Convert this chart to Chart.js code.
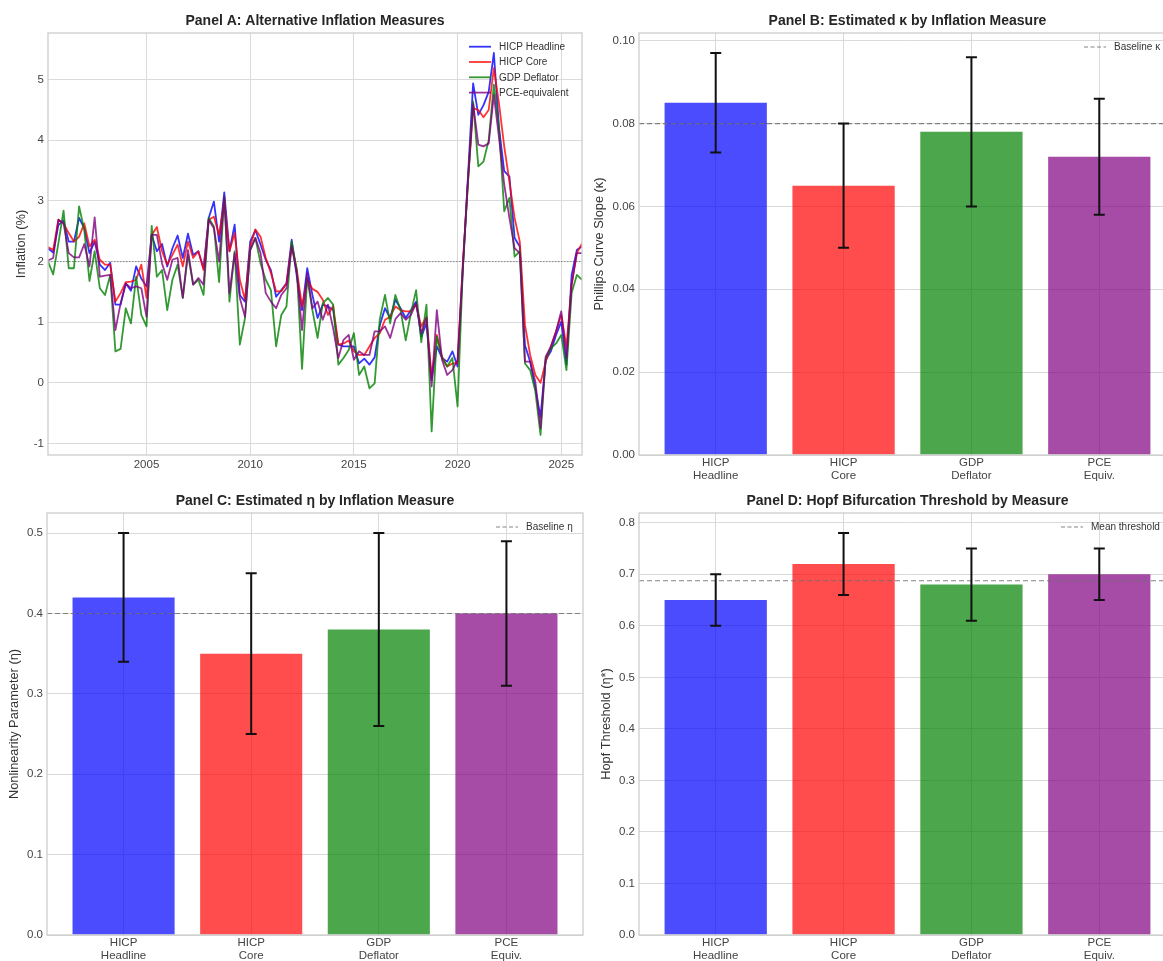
<!DOCTYPE html>
<html>
<head>
<meta charset="utf-8">
<title>Alternative inflation measures</title>
<script src="https://cdn.jsdelivr.net/npm/chart.js@4.4.1/dist/chart.umd.min.js"></script>
<style>
  html, body { margin: 0; padding: 0; background: #fff; overflow: hidden; width: 1163px; height: 961px; }
  .panel { position: absolute; }
</style>
</head>
<body>
<div class="panel" style="left:0;top:0"><canvas id="panelA" width="590" height="490"></canvas></div>
<div class="panel" style="left:580px;top:0"><canvas id="panelB" width="610" height="490"></canvas></div>
<div class="panel" style="left:0;top:480px"><canvas id="panelC" width="590" height="500"></canvas></div>
<div class="panel" style="left:580px;top:480px"><canvas id="panelD" width="610" height="500"></canvas></div>

<script>
// ---- data ----
const measureNames = ['HICP Headline', 'HICP Core', 'GDP Deflator', 'PCE-equivalent'];
const firstQuarter = 2000.25;   // 2000Q1, quarterly to 2025Q4
const xTickYears = [2005, 2010, 2015, 2020, 2025];
const inflationTicks = [-1, 0, 1, 2, 3, 4, 5];
const inflationTarget = 2;

const hicpHeadline = [
  2.22, 2.15, 2.60, 2.68, 2.33, 2.33, 2.72, 2.55,
  2.14, 2.33, 1.95, 1.86, 1.98, 1.29, 1.29, 1.64,
  1.52, 1.92, 1.72, 1.59, 2.44, 2.17, 2.29, 1.92,
  2.22, 2.43, 2.06, 2.46, 2.11, 2.17, 1.89, 2.72,
  2.99, 2.33, 3.14, 2.17, 2.61, 1.45, 1.34, 2.33,
  2.52, 2.28, 2.03, 1.86, 1.42, 1.53, 1.64, 2.36,
  1.75, 1.20, 1.89, 1.45, 1.07, 1.29, 1.26, 1.20,
  0.63, 0.60, 0.60, 0.60, 0.32, 0.40, 0.30, 0.42,
  0.95, 1.23, 1.07, 1.37, 1.23, 1.07, 1.20, 1.34,
  0.76, 0.98, 0.05, 0.60, 0.41, 0.35, 0.52, 0.27,
  1.85, 3.40, 4.94, 4.42, 4.58, 4.80, 5.44, 4.20,
  3.49, 3.40, 2.39, 2.25, 0.62, 0.35, -0.09, -0.56,
  0.38, 0.52, 0.79, 1.01, 0.30, 1.78, 2.19, 2.25
];
const hicpCore = [
  2.24, 2.19, 2.69, 2.63, 2.47, 2.33, 2.41, 2.63,
  2.25, 2.36, 2.03, 1.95, 1.95, 1.34, 1.48, 1.66,
  1.67, 1.70, 1.95, 1.40, 2.44, 2.57, 2.17, 1.95,
  2.11, 2.28, 1.92, 2.33, 2.06, 2.17, 1.86, 2.69,
  2.74, 2.44, 2.99, 2.17, 2.47, 1.70, 1.37, 2.25,
  2.53, 2.41, 2.06, 1.81, 1.51, 1.51, 1.64, 2.28,
  1.86, 1.26, 1.70, 1.55, 1.50, 1.37, 1.12, 1.27,
  0.63, 0.65, 0.70, 0.52, 0.46, 0.46, 0.60, 0.74,
  0.82, 1.04, 1.09, 1.26, 1.20, 1.18, 1.18, 1.29,
  0.93, 1.09, 0.10, 0.79, 0.43, 0.27, 0.32, 0.32,
  1.95, 3.30, 4.53, 4.50, 4.38, 4.50, 5.19, 4.60,
  3.90, 3.32, 2.72, 2.33, 0.96, 0.46, 0.13, 0.00,
  0.35, 0.60, 0.85, 1.12, 0.60, 1.62, 2.14, 2.30
];
const gdpDeflator = [
  2.00, 1.79, 2.30, 2.84, 1.89, 1.89, 2.91, 2.52,
  1.68, 2.17, 1.56, 1.45, 1.78, 0.52, 0.56, 1.23,
  0.98, 1.75, 1.12, 0.93, 2.59, 1.75, 1.86, 1.20,
  1.70, 1.95, 1.40, 2.11, 1.62, 1.70, 1.45, 2.72,
  2.58, 1.66, 3.07, 1.34, 2.17, 0.63, 1.07, 2.19,
  2.39, 1.97, 1.70, 1.53, 0.60, 1.12, 1.26, 2.33,
  1.86, 0.23, 1.73, 1.20, 0.74, 1.31, 1.40, 1.29,
  0.30, 0.41, 0.54, 0.82, 0.13, 0.27, -0.09, -0.01,
  1.05, 1.45, 0.98, 1.45, 1.20, 0.70, 1.15, 1.53,
  0.67, 1.29, -0.80, 0.76, 0.41, 0.27, 0.41, -0.39,
  1.85, 3.30, 4.64, 3.57, 3.65, 4.00, 4.92, 4.20,
  2.83, 3.05, 2.08, 2.17, 0.32, 0.21, -0.14, -0.86,
  0.41, 0.57, 0.65, 0.79, 0.21, 1.48, 1.78, 1.70
];
const pceEquivalent = [
  2.02, 2.06, 2.69, 2.63, 2.14, 2.07, 2.07, 2.29,
  1.92, 2.73, 1.75, 1.77, 1.78, 0.87, 1.31, 1.64,
  1.56, 1.59, 1.56, 1.09, 2.44, 2.44, 1.97, 1.70,
  2.03, 2.06, 1.40, 2.19, 1.62, 1.73, 1.62, 2.69,
  2.55, 2.00, 3.07, 1.48, 2.14, 1.40, 1.09, 2.19,
  2.39, 2.14, 1.48, 1.34, 1.23, 1.45, 1.56, 2.25,
  1.81, 0.87, 1.81, 1.23, 1.34, 1.04, 1.29, 0.90,
  0.41, 0.71, 0.79, 0.38, 0.52, 0.46, 0.46, 0.85,
  0.85, 0.93, 0.74, 1.05, 1.15, 1.04, 1.12, 1.31,
  0.82, 1.07, -0.06, 1.20, 0.38, 0.13, 0.21, 0.38,
  1.90, 3.35, 4.60, 3.93, 3.90, 3.95, 4.75, 4.04,
  3.27, 2.72, 2.22, 2.14, 0.35, 0.35, 0.02, -0.75,
  0.43, 0.60, 0.85, 1.18, 0.41, 1.62, 2.14, 2.14
];

const barLabels = [['HICP', 'Headline'], ['HICP', 'Core'], ['GDP', 'Deflator'], ['PCE', 'Equiv.']];

const kappaEst = [0.085, 0.065, 0.078, 0.072];
const kappaErr = [0.012, 0.015, 0.018, 0.014];
const kappaTicks = [0, 0.02, 0.04, 0.06, 0.08, 0.10];
const baselineKappa = 0.08;

const etaEst = [0.42, 0.35, 0.38, 0.40];
const etaErr = [0.08, 0.10, 0.12, 0.09];
const etaTicks = [0, 0.1, 0.2, 0.3, 0.4, 0.5];
const baselineEta = 0.4;

const hopfEst = [0.65, 0.72, 0.68, 0.70];
const hopfErr = [0.05, 0.06, 0.07, 0.05];
const hopfTicks = [0, 0.1, 0.2, 0.3, 0.4, 0.5, 0.6, 0.7, 0.8];
const meanThreshold = hopfEst.reduce((a, b) => a + b, 0) / hopfEst.length;

// ---- styling ----
const FONT = '"Liberation Sans", Arial, Helvetica, sans-serif';
Chart.defaults.font.family = FONT;
Chart.defaults.color = '#333';
Chart.defaults.animation = false;

const lineColors = ['rgba(0,0,255,0.8)', 'rgba(255,0,0,0.8)', 'rgba(0,128,0,0.8)', 'rgba(128,0,128,0.8)'];
const barColors = ['rgba(0,0,255,0.7)', 'rgba(255,0,0,0.7)', 'rgba(0,128,0,0.7)', 'rgba(128,0,128,0.7)'];
const GRID = '#dadada';
const FRAME = '#cccccc';
const REF = 'rgba(110,110,110,0.85)';
const TICK_SIZE = 11.5;
const LABEL_SIZE = 12.8;

// ---- plugins ----
const panelTitle = {
  id: 'panelTitle',
  afterDraw(chart, args, opts) {
    if (!opts.text) return;
    const {ctx, chartArea} = chart;
    ctx.save();
    ctx.font = 'bold 14px ' + FONT;
    ctx.fillStyle = '#262626';
    ctx.textAlign = 'center';
    ctx.textBaseline = 'middle';
    ctx.fillText(opts.text, (chartArea.left + chartArea.right) / 2, chartArea.top - 12);
    ctx.restore();
  }
};

const frame = {
  id: 'frame',
  afterDatasetsDraw(chart) {
    const {ctx, chartArea} = chart;
    ctx.save();
    ctx.strokeStyle = FRAME;
    ctx.lineWidth = 1.3;
    ctx.strokeRect(chartArea.left, chartArea.top, chartArea.right - chartArea.left, chartArea.bottom - chartArea.top);
    ctx.restore();
  }
};

function drawRef(chart, o) {
  const {ctx, chartArea} = chart;
  const y = chart.scales.y.getPixelForValue(o.value);
  ctx.save();
  ctx.strokeStyle = o.color;
  ctx.lineWidth = o.width;
  ctx.setLineDash(o.dash);
  ctx.beginPath();
  ctx.moveTo(chartArea.left, y);
  ctx.lineTo(chartArea.right, y);
  ctx.stroke();
  ctx.restore();
}

const refLine = {
  id: 'refLine',
  beforeDatasetsDraw(chart, args, opts) {
    if (opts.value !== undefined && opts.below) drawRef(chart, opts);
  },
  afterDatasetsDraw(chart, args, opts) {
    if (opts.value !== undefined && !opts.below) drawRef(chart, opts);
  }
};

const errorBars = {
  id: 'errorBars',
  afterDatasetsDraw(chart, args, opts) {
    if (!opts.errors) return;
    const {ctx} = chart;
    const y = chart.scales.y;
    const ds = chart.data.datasets[0];
    ctx.save();
    ctx.strokeStyle = '#111';
    ctx.lineWidth = 2;
    chart.getDatasetMeta(0).data.forEach((bar, i) => {
      const v = ds.data[i].y, e = opts.errors[i];
      const top = y.getPixelForValue(v + e);
      const bot = y.getPixelForValue(v - e);
      ctx.beginPath();
      ctx.moveTo(bar.x, top); ctx.lineTo(bar.x, bot);
      ctx.moveTo(bar.x - 5.5, top); ctx.lineTo(bar.x + 5.5, top);
      ctx.moveTo(bar.x - 5.5, bot); ctx.lineTo(bar.x + 5.5, bot);
      ctx.stroke();
    });
    ctx.restore();
  }
};

const innerKey = {
  id: 'innerKey',
  afterDraw(chart, args, opts) {
    if (!opts.items) return;
    const {ctx, chartArea} = chart;
    const x = chartArea.right - opts.offsetX;
    ctx.save();
    ctx.font = '10px ' + FONT;
    ctx.textBaseline = 'middle';
    ctx.textAlign = 'left';
    opts.items.forEach((it, k) => {
      const y = chartArea.top + opts.offsetY + k * 15.3;
      ctx.strokeStyle = it.color;
      ctx.lineWidth = it.width;
      ctx.setLineDash(it.dash || []);
      ctx.beginPath();
      ctx.moveTo(x, y); ctx.lineTo(x + 22, y);
      ctx.stroke();
      ctx.fillStyle = '#333';
      ctx.fillText(it.label, x + 30, y + 0.5);
    });
    ctx.restore();
  }
};

function yAxis(label, tickValues, min, max, width, fmt) {
  return {
    type: 'linear', min: min, max: max,
    afterBuildTicks: s => { s.ticks = tickValues.map(v => ({value: v})); },
    afterFit: s => { s.width = width; },
    ticks: { font: {size: TICK_SIZE}, color: '#444', padding: 4, callback: fmt },
    grid: { color: GRID, lineWidth: 1, drawTicks: false },
    border: { display: false },
    title: { display: true, text: label, font: {size: LABEL_SIZE}, color: '#333', padding: {top: 0, bottom: 0} }
  };
}

// ---- Panel A: lines ----
const quarterDates = hicpHeadline.map((_, i) => firstQuarter + i * 0.25);
const seriesA = [hicpHeadline, hicpCore, gdpDeflator, pceEquivalent];

new Chart(document.getElementById('panelA'), {
  type: 'line',
  data: {
    datasets: seriesA.map((s, k) => ({
      label: measureNames[k],
      data: s.map((v, i) => ({x: quarterDates[i], y: v})),
      borderColor: lineColors[k],
      borderWidth: 1.8,
      pointRadius: 0,
      tension: 0,
      borderJoinStyle: 'round',
      order: 4 - k
    }))
  },
  options: {
    responsive: false,
    layout: { padding: {top: 33, left: 14, right: 8, bottom: 0} },
    plugins: {
      legend: {display: false},
      tooltip: {enabled: false},
      panelTitle: {text: 'Panel A: Alternative Inflation Measures'},
      refLine: {value: inflationTarget, color: 'rgba(90,90,90,0.8)', width: 0.8, dash: [1.5, 1.5], below: true},
      innerKey: {
        offsetX: 113, offsetY: 13.7,
        items: measureNames.map((n, k) => ({label: n, color: lineColors[k], width: 1.8}))
      }
    },
    scales: {
      x: {
        type: 'linear',
        min: quarterDates[0], max: quarterDates[quarterDates.length - 1],
        afterBuildTicks: s => { s.ticks = xTickYears.map(v => ({value: v})); },
        afterFit: s => { s.height = 35; },
        ticks: { font: {size: TICK_SIZE}, color: '#444', padding: 3, maxRotation: 0, callback: v => String(v) },
        grid: { color: GRID, lineWidth: 1, drawTicks: false },
        border: { display: false }
      },
      y: yAxis('Inflation (%)', inflationTicks, -1.19, 5.77, 34, v => String(v))
    }
  },
  plugins: [refLine, frame, panelTitle, innerKey]
});

// ---- Panels B, C, D: bars with error bars ----
function barPanel(id, cfg) {
  new Chart(document.getElementById(id), {
    type: 'bar',
    data: {
      datasets: [{
        data: cfg.values.map((v, i) => ({x: i, y: v})),
        backgroundColor: barColors,
        borderWidth: 0,
        barPercentage: 0.8,
        categoryPercentage: 1.0
      }]
    },
    options: {
      responsive: false,
      layout: { padding: {top: 33, left: cfg.padLeft, right: cfg.padRight, bottom: 0} },
      plugins: {
        legend: {display: false},
        tooltip: {enabled: false},
        panelTitle: {text: cfg.title},
        refLine: {value: cfg.ref, color: REF, width: 1.2, dash: [5, 3]},
        errorBars: {errors: cfg.errors},
        innerKey: {
          offsetX: cfg.keyX, offsetY: 14,
          items: [{label: cfg.refLabel, color: REF, width: 1.2, dash: [4, 2.5]}]
        }
      },
      scales: {
        x: {
          type: 'linear', min: -0.6, max: 3.6, offset: false,
          afterBuildTicks: s => { s.ticks = barLabels.map((_, i) => ({value: i})); },
          afterFit: s => { s.height = cfg.axisH; },
          ticks: { font: {size: TICK_SIZE, lineHeight: 1.1}, color: '#444', padding: 2, maxRotation: 0, autoSkip: false,
                   callback: v => barLabels[v] },
          grid: { color: GRID, lineWidth: 1, drawTicks: false, offset: false },
          border: { display: false }
        },
        y: yAxis(cfg.yLabel, cfg.ticks, 0, cfg.yMax, cfg.yWidth, cfg.fmt)
      }
    },
    plugins: [refLine, errorBars, frame, panelTitle, innerKey]
  });
}

barPanel('panelB', {
  title: 'Panel B: Estimated \u03ba by Inflation Measure',
  yLabel: 'Phillips Curve Slope (\u03ba)',
  values: kappaEst, errors: kappaErr, ticks: kappaTicks, yMax: 0.10185,
  ref: baselineKappa, refLabel: 'Baseline \u03ba', keyX: 92,
  padLeft: 12, yWidth: 47, padRight: 14, axisH: 35,
  fmt: v => v.toFixed(2)
});

barPanel('panelC', {
  title: 'Panel C: Estimated \u03b7 by Inflation Measure',
  yLabel: 'Nonlinearity Parameter (\u03b7)',
  values: etaEst, errors: etaErr, ticks: etaTicks, yMax: 0.525,
  ref: baselineEta, refLabel: 'Baseline \u03b7', keyX: 87,
  padLeft: 7, yWidth: 40, padRight: 7, axisH: 45,
  fmt: v => v.toFixed(1)
});

barPanel('panelD', {
  title: 'Panel D: Hopf Bifurcation Threshold by Measure',
  yLabel: 'Hopf Threshold (\u03b7*)',
  values: hopfEst, errors: hopfErr, ticks: hopfTicks, yMax: 0.819,
  ref: meanThreshold, refLabel: 'Mean threshold', keyX: 115,
  padLeft: 19, yWidth: 40, padRight: 14, axisH: 45,
  fmt: v => v.toFixed(1)
});
</script>
</body>
</html>
